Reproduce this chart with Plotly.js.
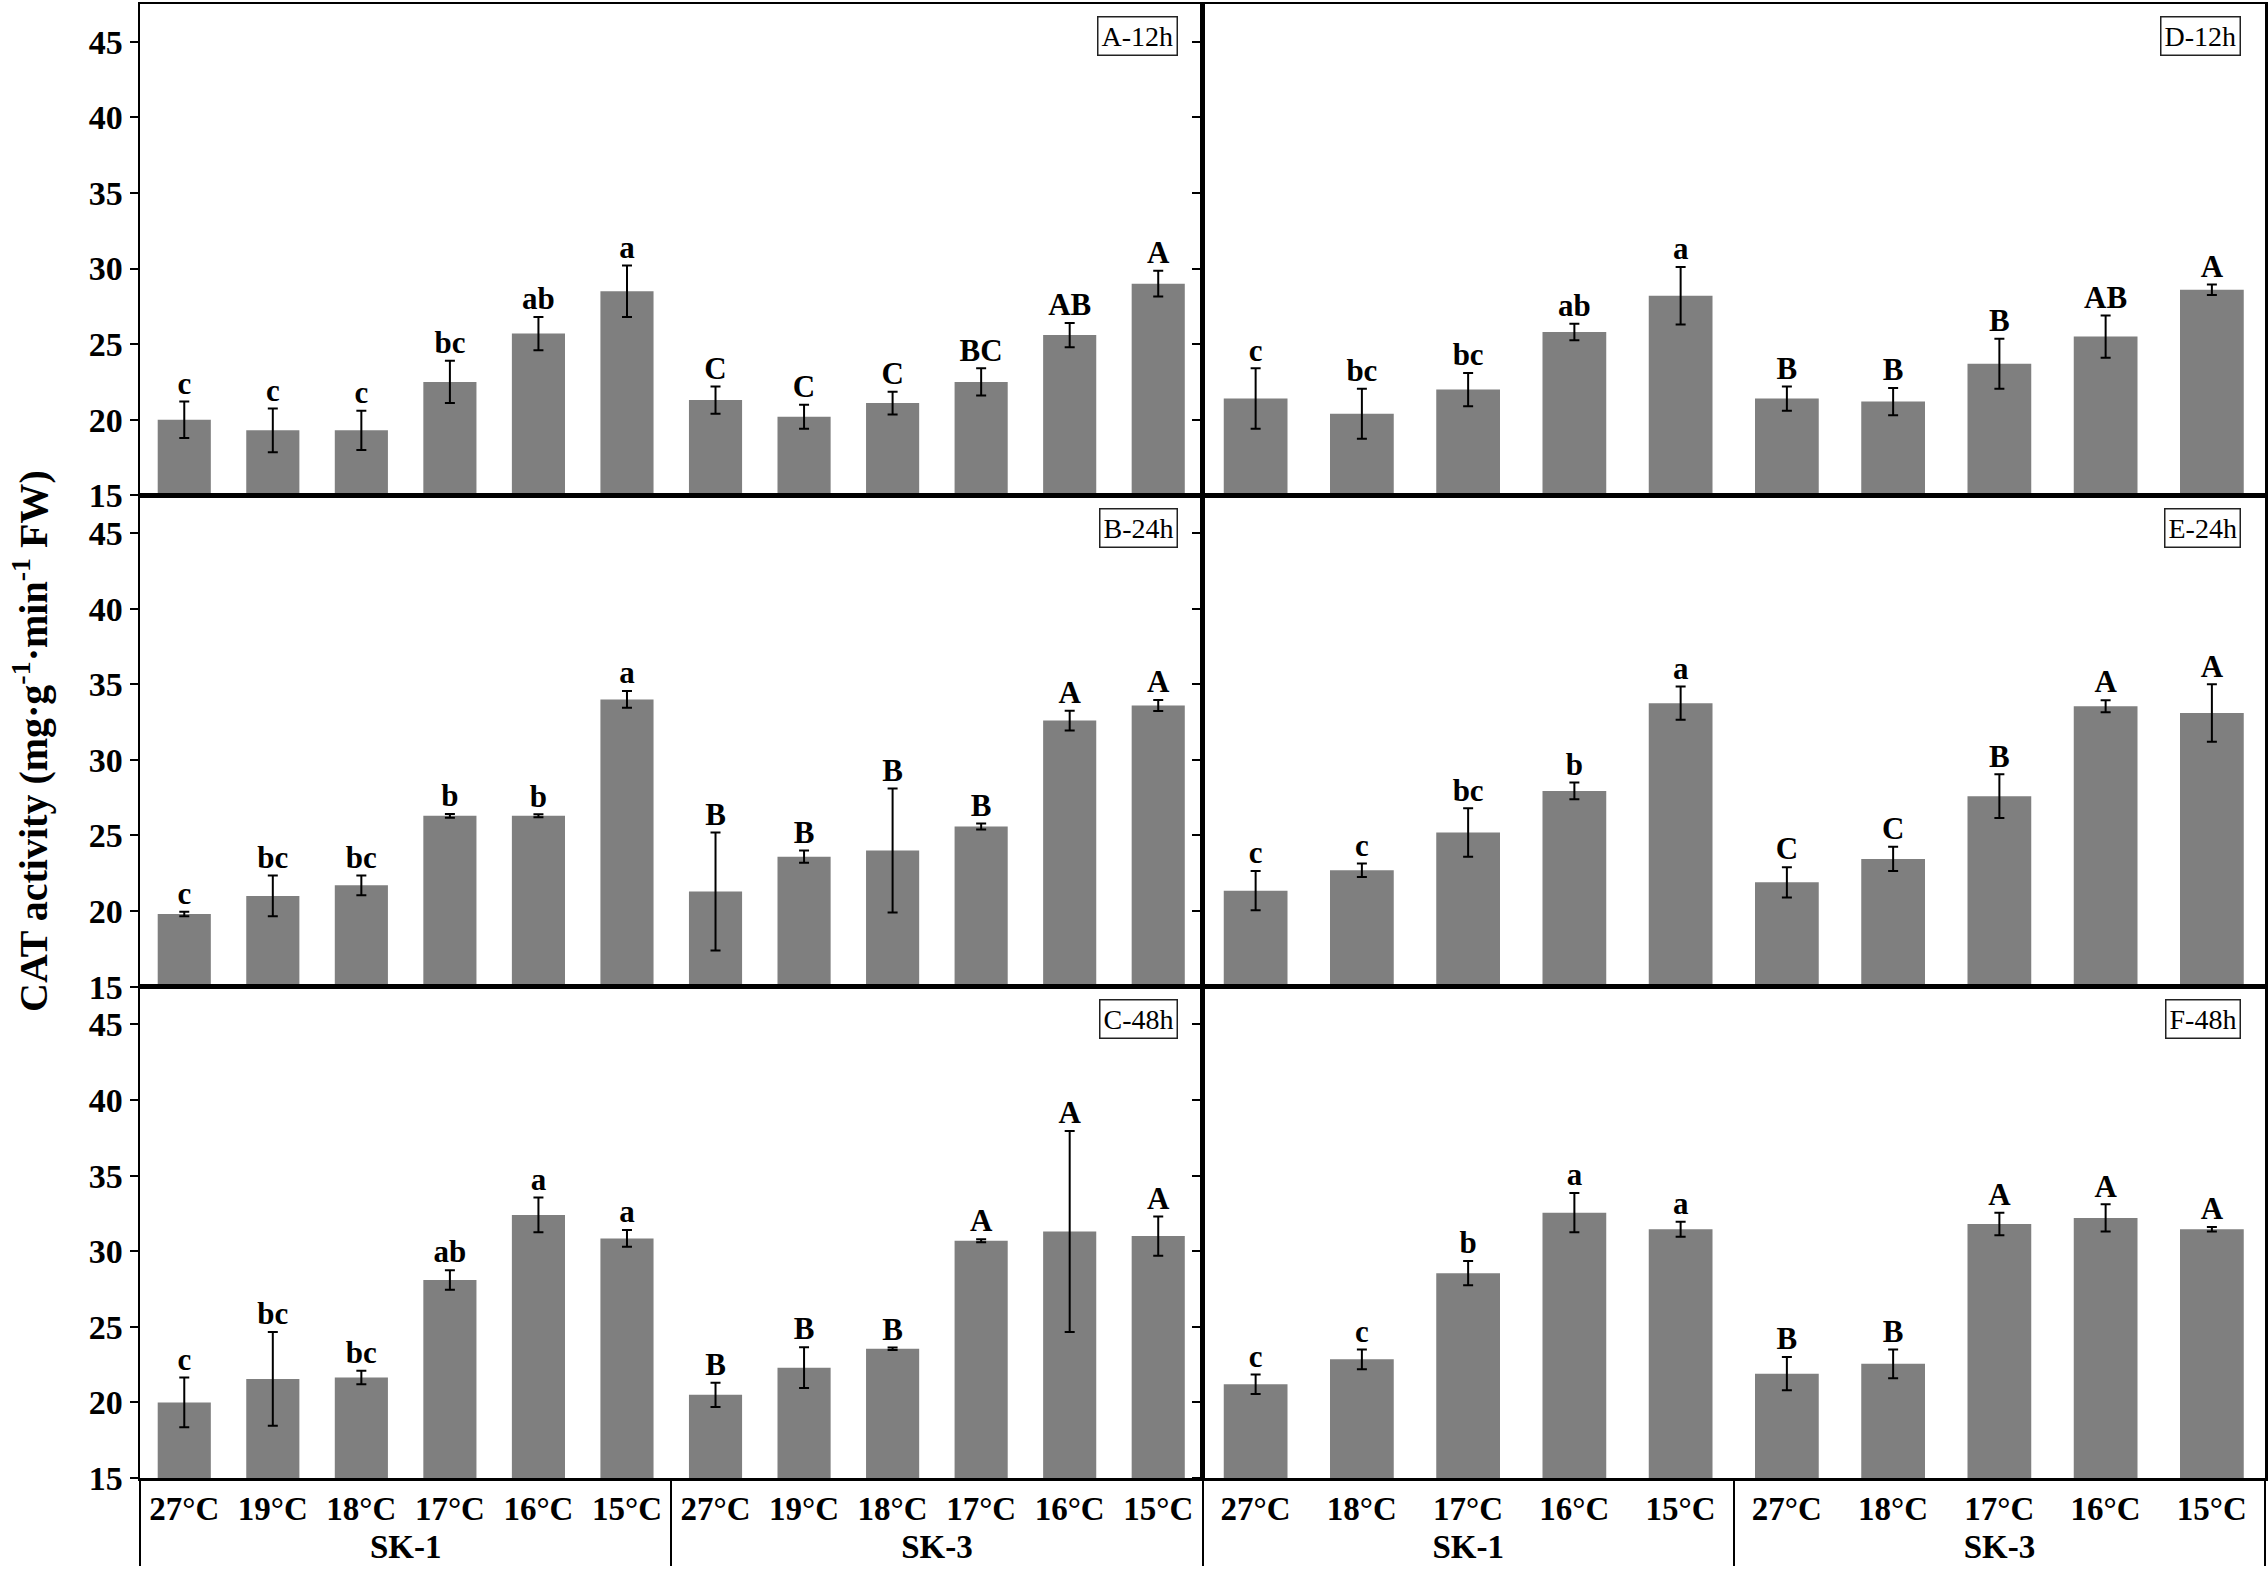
<!DOCTYPE html>
<html>
<head>
<meta charset="utf-8">
<script src="https://cdn.plot.ly/plotly-3.0.1.min.js"></script>
<style>
  html, body { margin: 0; padding: 0; background: #fff; }
  #chart { width: 2268px; height: 1590px; }
</style>
</head>
<body>
<div id="chart"></div>
<script>
// categories
const groupsLeft = ['SK-1', 'SK-1', 'SK-1', 'SK-1', 'SK-1', 'SK-1', 'SK-3', 'SK-3', 'SK-3', 'SK-3', 'SK-3', 'SK-3'];
const tempsLeft = ['27°C', '19°C', '18°C', '17°C', '16°C', '15°C', '27°C', '19°C', '18°C', '17°C', '16°C', '15°C'];
const groupsRight = ['SK-1', 'SK-1', 'SK-1', 'SK-1', 'SK-1', 'SK-3', 'SK-3', 'SK-3', 'SK-3', 'SK-3'];
const tempsRight = ['27°C', '18°C', '17°C', '16°C', '15°C', '27°C', '18°C', '17°C', '16°C', '15°C'];

// A-12h
const meanA = [20.0, 19.3, 19.3, 22.5, 25.7, 28.5, 21.3, 20.2, 21.1, 22.5, 25.6, 29.0];
const errA = [1.2, 1.45, 1.3, 1.4, 1.1, 1.7, 0.9, 0.8, 0.75, 0.9, 0.8, 0.85];
const sigA = ['c', 'c', 'c', 'bc', 'ab', 'a', 'C', 'C', 'C', 'BC', 'AB', 'A'];
// B-24h
const meanB = [19.8, 21.0, 21.7, 26.3, 26.3, 34.0, 21.3, 23.6, 24.0, 25.6, 32.6, 33.6];
const errB = [0.15, 1.35, 0.65, 0.12, 0.1, 0.55, 3.9, 0.4, 4.1, 0.2, 0.65, 0.37];
const sigB = ['c', 'bc', 'bc', 'b', 'b', 'a', 'B', 'B', 'B', 'B', 'A', 'A'];
// C-48h
const meanC = [20.0, 21.55, 21.65, 28.1, 32.4, 30.85, 20.5, 22.3, 23.55, 30.7, 31.3, 31.0];
const errC = [1.65, 3.1, 0.45, 0.65, 1.15, 0.55, 0.8, 1.35, 0.08, 0.1, 6.65, 1.3];
const sigC = ['c', 'bc', 'bc', 'ab', 'a', 'a', 'B', 'B', 'B', 'A', 'A', 'A'];
// D-12h
const meanD = [21.4, 20.4, 22.0, 25.8, 28.2, 21.4, 21.2, 23.7, 25.5, 28.6];
const errD = [2.0, 1.65, 1.1, 0.55, 1.9, 0.8, 0.9, 1.65, 1.4, 0.35];
const sigD = ['c', 'bc', 'bc', 'ab', 'a', 'B', 'B', 'B', 'AB', 'A'];
// E-24h
const meanE = [21.35, 22.7, 25.2, 27.95, 33.75, 21.9, 23.45, 27.6, 33.55, 33.1];
const errE = [1.3, 0.45, 1.6, 0.55, 1.1, 1.0, 0.8, 1.45, 0.4, 1.9];
const sigE = ['c', 'c', 'bc', 'b', 'a', 'C', 'C', 'B', 'A', 'A'];
// F-48h
const meanF = [21.2, 22.85, 28.55, 32.55, 31.45, 21.9, 22.55, 31.8, 32.2, 31.45];
const errF = [0.65, 0.65, 0.8, 1.3, 0.5, 1.1, 0.95, 0.75, 0.9, 0.15];
const sigF = ['c', 'c', 'b', 'a', 'a', 'B', 'B', 'A', 'A', 'A'];

const panelNames = ['A-12h', 'D-12h', 'B-24h', 'E-24h', 'C-48h', 'F-48h'];

const serif = '"Liberation Serif", "Times New Roman", serif';
const barColor = '#7f7f7f';

// order follows axis numbering: row by row, left then right
const panels = [
    { groups: groupsLeft, temps: tempsLeft, mean: meanA, err: errA, sig: sigA },
    { groups: groupsRight, temps: tempsRight, mean: meanD, err: errD, sig: sigD },
    { groups: groupsLeft, temps: tempsLeft, mean: meanB, err: errB, sig: sigB },
    { groups: groupsRight, temps: tempsRight, mean: meanE, err: errE, sig: sigE },
    { groups: groupsLeft, temps: tempsLeft, mean: meanC, err: errC, sig: sigC },
    { groups: groupsRight, temps: tempsRight, mean: meanF, err: errF, sig: sigF }
];

const traces = [];
const layout = {
    width: 2268, height: 1590,
    margin: { l: 140, r: 3, t: 4, b: 112 },
    paper_bgcolor: '#fff', plot_bgcolor: '#fff',
    showlegend: false,
    bargap: 0.4,
    font: { family: serif, color: '#000' },
    annotations: []
};

const rowDomains = [[2 / 3, 1], [1 / 3, 2 / 3], [0, 1 / 3]];
const colDomains = [[0, 0.5], [0.5, 1]];

panels.forEach((p, i) => {
    const n = i + 1;
    const xs = n === 1 ? 'x' : 'x' + n;
    const ys = n === 1 ? 'y' : 'y' + n;
    const row = Math.floor(i / 2), col = i % 2;
    const bottom = row === 2;

    traces.push({
        type: 'bar', x: [p.groups, p.temps], y: p.mean,
        xaxis: xs, yaxis: ys,
        marker: { color: barColor, line: { width: 0 } },
        error_y: { type: 'data', array: p.err, visible: true, color: '#000', thickness: 2, width: 5 }
    });
    // significance letters sit on top of the error bars
    traces.push({
        type: 'scatter', mode: 'text', x: [p.groups, p.temps],
        y: p.mean.map((m, k) => m + p.err[k]), text: p.sig,
        textposition: 'top center', cliponaxis: false,
        textfont: { family: serif, size: 31, weight: 'bold', color: '#000' },
        xaxis: xs, yaxis: ys, hoverinfo: 'skip'
    });

    layout['xaxis' + (n === 1 ? '' : n)] = {
        type: 'multicategory', domain: colDomains[col], anchor: ys,
        range: [-0.5, p.mean.length - 0.5], autorange: false,
        showline: true, mirror: true, linecolor: '#000', linewidth: 2.5,
        ticks: '', showgrid: false, zeroline: false,
        showticklabels: bottom, showdividers: bottom,
        dividercolor: '#000', dividerwidth: 2,
        tickfont: { family: serif, size: 33, weight: 'bold', color: '#000' }
    };
    layout['yaxis' + (n === 1 ? '' : n)] = {
        domain: rowDomains[row], anchor: xs,
        range: [15, 47.5], dtick: 5, tick0: 15,
        showline: true, mirror: true, linecolor: '#000', linewidth: 2.5,
        ticks: 'outside', ticklen: 8, tickwidth: 2, tickcolor: '#000',
        showgrid: false, zeroline: false,
        showticklabels: col === 0,
        tickfont: { family: serif, size: 34, weight: 'bold', color: '#000' }
    };

    layout.annotations.push({
        text: panelNames[i], xref: xs + ' domain', yref: ys + ' domain',
        x: 0.977, y: 0.975, xanchor: 'right', yanchor: 'top', showarrow: false,
        font: { family: serif, size: 28, color: '#000' },
        bordercolor: '#222', borderwidth: 1.5, borderpad: 3, bgcolor: '#fff'
    });
});

layout.annotations.push({
    text: 'CAT activity (mg·g<sup>-1</sup>·min<sup>-1</sup> FW)',
    xref: 'paper', yref: 'paper', x: 0, y: 0.5, xshift: -110,
    xanchor: 'center', yanchor: 'middle', textangle: -90, showarrow: false,
    font: { family: serif, size: 40, weight: 'bold', color: '#000' }
});

Plotly.newPlot('chart', traces, layout, { displayModeBar: false, staticPlot: true });
</script>
</body>
</html>
